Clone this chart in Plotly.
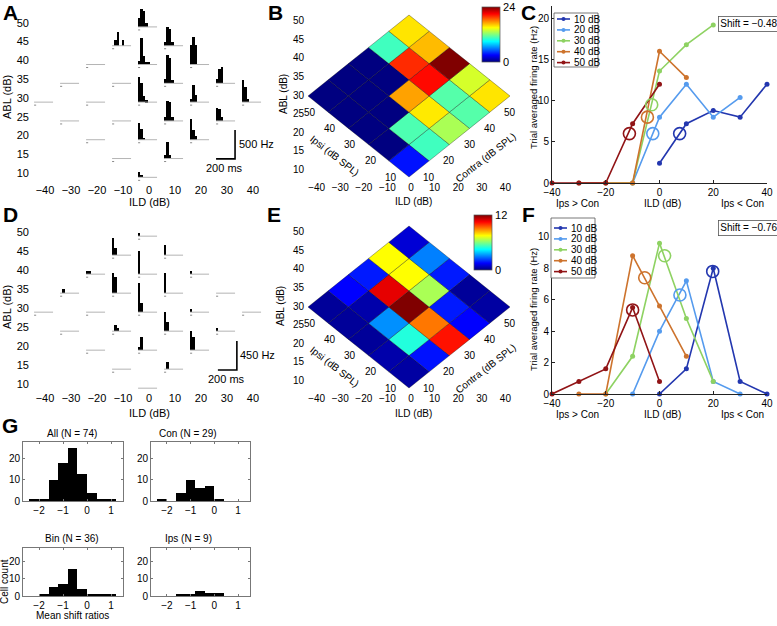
import plotly.graph_objects as go
from plotly.colors import sample_colorscale

W, H = 777, 626
FONT = "Liberation Sans, Arial, sans-serif"

# ---------------- data ----------------
levels = [10, 20, 30, 40, 50]                      # ipsi / contra level (dB SPL)
ild_ticks = [-40, -30, -20, -10, 0, 10, 20, 30, 40]
abl_ticks = [10, 15, 20, 25, 30, 35, 40, 45, 50]

# PSTHs (Hz per 25 ms bin), keyed by (ILD, ABL); tiles not listed are silent
bin_ms = 25
psth_a = {
    (0, 50): [160, 310, 270, 60],
    (-10, 45): [0, 100, 240, 0, 100],
    (10, 45): [60, 330, 280, 60],
    (0, 40): [60, 450, 140, 50, 40],
    (20, 40): [330, 470, 340],
    (10, 35): [70, 480, 430, 60],
    (30, 35): [80, 240, 290],
    (0, 30): [430, 330, 110, 30],
    (20, 30): [50, 290, 130],
    (40, 30): [390, 260, 60],
    (10, 25): [70, 345, 330, 60],
    (30, 25): [230, 200, 60],
    (0, 20): [290, 190, 20],
    (20, 20): [350, 160, 57],
    (10, 15): [57, 290, 60],
    (0, 10): [86, 46],
}
psth_d = {
    (0, 50): [52],
    (-10, 45): [260, 104],
    (10, 45): [156],
    (-20, 40): [52, 52],
    (0, 40): [364],
    (20, 40): [52],
    (-30, 35): [0, 62],
    (-10, 35): [312, 255],
    (10, 35): [312],
    (0, 30): [458, 146],
    (20, 30): [52],
    (-10, 25): [0, 99, 52],
    (10, 25): [296, 146],
    (30, 25): [52],
    (0, 20): [52, 208],
    (20, 20): [296, 208],
    (10, 15): [0, 104],
}
scale_hz_a = 500
scale_hz_d = 450

# rate maps: rows ipsi 10..50, columns contra 10..50
rate_map_b = [
    [3.4, 10.5, 13.0, 11.0, 15.6],
    [0.0, 10.8, 15.5, 11.0, 14.0],
    [0.0, 0.0, 17.2, 20.8, 24.0],
    [0.0, 0.0, 0.0, 20.0, 16.6],
    [0.0, 0.0, 0.0, 10.5, 15.6],
]
rate_map_e = [
    [0.4, 1.7, 10.3, 1.5, 0.4],
    [0.5, 4.9, 9.1, 1.8, 0.3],
    [0.3, 3.2, 12.0, 6.5, 1.8],
    [0.3, 0.5, 10.8, 7.5, 3.0],
    [0.3, 1.5, 1.8, 7.5, 1.0],
]
cmax_b = 24
cmax_e = 12

# rate-level curves (trial averaged firing rate, Hz) per ipsi level
curve_ild = {
    10: [0, 10, 20, 30, 40],
    20: [-10, 0, 10, 20, 30],
    30: [-20, -10, 0, 10, 20],
    40: [-30, -20, -10, 0, 10],
    50: [-40, -30, -20, -10, 0],
}
rate_c = {
    10: [2.4, 7.2, 8.8, 8.0, 12.0],
    20: [0.0, 8.0, 12.0, 8.0, 10.4],
    30: [0.0, 0.0, 13.6, 16.8, 19.2],
    40: [0.0, 0.0, 0.0, 16.0, 12.8],
    50: [0.0, 0.0, 0.0, 7.2, 12.0],
}
mid_c = {10: (7.5, 6.0), 20: (-2.5, 6.0), 30: (-2.9, 9.5), 40: (-4.5, 8.0), 50: (-11.2, 6.0)}
rate_f = {
    10: [0.0, 1.6, 8.0, 0.8, 0.0],
    20: [0.0, 4.0, 7.2, 0.8, 0.0],
    30: [0.0, 2.4, 9.6, 4.8, 0.8],
    40: [0.0, 0.0, 8.8, 5.6, 2.4],
    50: [0.0, 0.8, 1.6, 5.5, 0.8],
}
mid_f = {10: (19.8, 7.8), 20: (7.6, 6.3), 30: (1.9, 8.8), 40: (-5.5, 7.4), 50: (-10.0, 5.35)}
shift_c = "Shift = \u22120.48"
shift_f = "Shift = \u22120.76"

series_colors = {
    10: "rgb(35,55,175)",
    20: "rgb(85,155,238)",
    30: "rgb(142,210,98)",
    40: "rgb(205,115,45)",
    50: "rgb(145,20,22)",
}

# shift ratio histograms
shift_bins = [-2.2, -1.8, -1.4, -1.0, -0.6, -0.2, 0.2, 0.6, 1.0]
count_all = [1, 1, 10, 18, 25, 13, 4, 1, 1]
count_con = [1, 0, 4, 10, 6, 7, 1, 0, 0]
count_bin = [0, 1, 5, 7, 16, 4, 1, 1, 1]
count_ips = [0, 0, 1, 1, 3, 2, 2, 0, 0]

JET = [[0, "rgb(0,0,128)"], [0.125, "rgb(0,0,255)"], [0.375, "rgb(0,255,255)"],
       [0.625, "rgb(255,255,0)"], [0.875, "rgb(255,0,0)"], [1, "rgb(128,0,0)"]]

# ---------------- geometry helpers ----------------
def dom_x(a, b):
    return [a / W, b / W]

def dom_y(top, bottom):
    return [1 - bottom / H, 1 - top / H]

ms_to_ild = 0.0365          # ILD units per ms in the tile grids
TILE_LEN = 200 * ms_to_ild
BIN_W = bin_ms * ms_to_ild
TILE_X0 = -4.2
TILE_Y0 = -1.1

fig = go.Figure()


def add_psth(psth, hz_to_abl, xa, ya):
    bx, by, bb, lx, ly, mx, my = [], [], [], [], [], [], []
    for i in levels:
        for c in levels:
            ild, abl = c - i, (c + i) / 2
            x0, y0 = ild + TILE_X0, abl + TILE_Y0
            lx += [x0, x0 + TILE_LEN, None]
            ly += [y0, y0, None]
            mx += [x0, x0 + 0.8, None]
            my += [y0 - 0.8, y0 - 0.8, None]
            for k, hz in enumerate(psth.get((ild, abl), [])):
                if hz > 0:
                    bx.append(x0 + (k + 0.5) * BIN_W)
                    by.append(hz * hz_to_abl)
                    bb.append(y0)
    fig.add_trace(go.Scatter(x=lx, y=ly, mode="lines", line=dict(color="#b4b4b4", width=1),
                             xaxis=xa, yaxis=ya, hoverinfo="skip"))
    fig.add_trace(go.Scatter(x=mx, y=my, mode="lines", line=dict(color="#8a8a8a", width=1),
                             xaxis=xa, yaxis=ya, hoverinfo="skip"))
    fig.add_trace(go.Bar(x=bx, y=by, base=bb, width=BIN_W, marker=dict(color="black", line=dict(width=0)),
                         xaxis=xa, yaxis=ya))


def add_scalebar(sx, sy, bar_len, label, xa, ya):
    fig.add_trace(go.Scatter(x=[sx - TILE_LEN, sx, sx], y=[sy, sy, sy + bar_len], mode="lines",
                             line=dict(color="black", width=1.6), xaxis=xa, yaxis=ya, hoverinfo="skip"))
    fig.add_annotation(x=sx + 0.6, y=sy + bar_len / 2, xref=xa, yref=ya, text=label, showarrow=False,
                       xanchor="left", yanchor="middle", font=dict(size=11))
    fig.add_annotation(x=sx - TILE_LEN / 2 - 0.5, y=sy - 0.3, xref=xa, yref=ya, text="200 ms",
                       showarrow=False, xanchor="center", yanchor="top", font=dict(size=11))


# panel A / D: PSTH grids
add_psth(psth_a, 29 / 3.76 / scale_hz_a, "x", "y")
add_scalebar(33.1, 13.8, 29 / 3.76, f"{scale_hz_a} Hz", "x", "y")
add_psth(psth_d, 29 / 3.8 / scale_hz_d, "x5", "y5")
add_scalebar(33.8, 13.7, 29 / 3.8, f"{scale_hz_d} Hz", "x5", "y5")


# panel B / E: rotated rate maps
def add_map(rate_map, cmax, xa, ya, vis_x, vis_y, cb_left, cb_top):
    for r, i in enumerate(levels):
        for q, c in enumerate(levels):
            ild, abl = c - i, (c + i) / 2
            col = sample_colorscale(JET, [rate_map[r][q] / cmax])[0]
            fig.add_trace(go.Scatter(
                x=[ild, ild + 10, ild, ild - 10, ild], y=[abl - 5, abl, abl + 5, abl, abl - 5],
                mode="lines", fill="toself", fillcolor=col,
                line=dict(color="rgba(0,0,0,0.45)", width=0.7),
                xaxis=xa, yaxis=ya, hoverinfo="skip"))
    fig.add_trace(go.Scatter(
        x=[0], y=[30], mode="markers", xaxis=xa, yaxis=ya, hoverinfo="skip",
        marker=dict(size=0.1, opacity=0, color=[0], cmin=0, cmax=cmax, colorscale=JET, showscale=True,
                    colorbar=dict(x=cb_left / W, xanchor="left", y=1 - cb_top / H, yanchor="top",
                                  len=55 / H, lenmode="fraction", thickness=18, thicknessmode="pixels",
                                  tickvals=[0, cmax], ticks="", outlinewidth=0.7, outlinecolor="#555",
                                  xpad=0, ypad=0, tickfont=dict(size=11, family=FONT)))))
    fig.add_trace(go.Scatter(x=[None], y=[None], xaxis=vis_x, yaxis=vis_y, hoverinfo="skip"))
    for lv in levels:
        fig.add_annotation(x=-lv + 1, y=lv / 2, xref=xa, yref=ya, text=str(lv), showarrow=False,
                           xanchor="center", yanchor="middle", font=dict(size=10))
        fig.add_annotation(x=lv, y=lv / 2, xref=xa, yref=ya, text=str(lv), showarrow=False,
                           xanchor="center", yanchor="middle", font=dict(size=10))
    fig.add_annotation(x=-37, y=11.5, xref=xa, yref=ya, text="Ipsi (dB SPL)", showarrow=False,
                       xanchor="center", yanchor="middle", textangle=38, font=dict(size=10))
    fig.add_annotation(x=38, y=11.0, xref=xa, yref=ya, text="Contra (dB SPL)", showarrow=False,
                       xanchor="center", yanchor="middle", textangle=-38, font=dict(size=10))


add_map(rate_map_b, cmax_b, "x3", "y3", "x2", "y2", 482, 7)
add_map(rate_map_e, cmax_e, "x7", "y7", "x6", "y6", 474, 215)


# panel C / F: rate vs ILD
def add_curves(rates, mids, xa, ya):
    for lv in levels:
        fig.add_trace(go.Scatter(x=curve_ild[lv], y=rates[lv], mode="lines+markers",
                                 line=dict(color=series_colors[lv], width=1.6),
                                 marker=dict(size=5, color=series_colors[lv]),
                                 xaxis=xa, yaxis=ya, cliponaxis=False))
    for lv in levels:
        fig.add_trace(go.Scatter(x=[mids[lv][0]], y=[mids[lv][1]], mode="markers",
                                 marker=dict(size=12, symbol="circle-open", color=series_colors[lv],
                                             line=dict(width=1.6)),
                                 xaxis=xa, yaxis=ya, cliponaxis=False))


add_curves(rate_c, mid_c, "x4", "y4")
add_curves(rate_f, mid_f, "x8", "y8")

# panel G: shift ratio histograms
for counts, xa, ya in [(count_all, "x9", "y9"), (count_con, "x10", "y10"),
                       (count_bin, "x11", "y11"), (count_ips, "x12", "y12")]:
    fig.add_trace(go.Bar(x=shift_bins, y=counts, width=0.4, marker=dict(color="black", line=dict(width=0)),
                         xaxis=xa, yaxis=ya))

# ---------------- axes ----------------
hidden = dict(showgrid=False, zeroline=False, showline=False, ticks="", fixedrange=True, automargin=False)
lay = {}
lay["xaxis"] = dict(hidden, domain=dom_x(30, 265), range=[-45.77, 44.62], tickvals=ild_ticks,
                    tickfont=dict(size=11))
lay["yaxis"] = dict(hidden, domain=dom_y(0, 182), range=[7.66, 56.06], tickvals=abl_ticks,
                    tickfont=dict(size=11))
lay["xaxis5"] = dict(hidden, domain=dom_x(30, 265), range=[-45.77, 44.62], tickvals=ild_ticks,
                     tickfont=dict(size=11), anchor="y5")
lay["yaxis5"] = dict(hidden, domain=dom_y(205, 390), range=[8.42, 57.1], tickvals=abl_ticks,
                     tickfont=dict(size=11), anchor="x5")
for n, top, bot, lab in [(2, 5, 185, 180), (6, 216, 396, 391)]:
    lay[f"xaxis{n}"] = dict(hidden, domain=dom_x(305, 525), range=[-44.92, 48.31], tickvals=ild_ticks,
                            tickfont=dict(size=10), anchor="free", position=1 - lab / H)
    lay[f"yaxis{n}"] = dict(hidden, domain=dom_y(top, bot), range=[5.68, 54.32], tickvals=abl_ticks,
                            tickfont=dict(size=10), anchor=f"x{n}")
    lay[f"xaxis{n + 1}"] = dict(hidden, domain=dom_x(305, 525), range=[-51.49, 57.43], showticklabels=False,
                                anchor=f"y{n + 1}")
    lay[f"yaxis{n + 1}"] = dict(hidden, domain=dom_y(top, bot), range=[2.53, 58.09], showticklabels=False,
                                anchor=f"x{n + 1}")

line_ax = dict(showgrid=False, zeroline=False, showline=True, linecolor="#222", linewidth=1,
               ticks="inside", ticklen=3, tickcolor="#222", tickfont=dict(size=10), fixedrange=True,
               automargin=False)
lay["xaxis4"] = dict(line_ax, domain=dom_x(552, 767), range=[-40, 40], tickvals=[-40, -20, 0, 20, 40],
                     anchor="y4")
lay["yaxis4"] = dict(line_ax, domain=dom_y(6, 183), range=[0, 21.5], tickvals=[0, 5, 10, 15, 20],
                     anchor="x4")
lay["xaxis8"] = dict(line_ax, domain=dom_x(552, 767), range=[-40, 40], tickvals=[-40, -20, 0, 20, 40],
                     anchor="y8")
lay["yaxis8"] = dict(line_ax, domain=dom_y(218, 394), range=[0, 11.2], tickvals=[0, 2, 4, 6, 8, 10],
                     anchor="x8")

box_ax = dict(showgrid=False, zeroline=False, showline=True, linecolor="#777", linewidth=1, mirror="ticks",
              ticks="inside", ticklen=2, tickcolor="#777", tickfont=dict(size=10), fixedrange=True,
              automargin=False)
for n, (l, r, t, b) in zip([9, 10, 11, 12], [(23, 123, 442, 501), (151, 250, 442, 501),
                                             (23, 123, 548, 596), (151, 250, 548, 596)]):
    lay[f"xaxis{n}"] = dict(box_ax, domain=dom_x(l, r), range=[-2.67, 1.5], tickvals=[-2, -1, 0, 1],
                            anchor=f"y{n}")
    lay[f"yaxis{n}"] = dict(box_ax, domain=dom_y(t, b), range=[0, 28], tickvals=[0, 10, 20],
                            anchor=f"x{n}")

fig.update_layout(**lay)


# ---------------- text ----------------
def note(text, x, y, size=11, angle=0, bold=False, xanchor="center", **kw):
    fig.add_annotation(x=x / W, y=1 - y / H, xref="paper", yref="paper", text=f"<b>{text}</b>" if bold else text,
                       showarrow=False, textangle=angle, font=dict(size=size), xanchor=xanchor,
                       yanchor="middle", **kw)


for letter, x, y in [("A", 10, 12), ("B", 275, 12), ("C", 528, 12), ("D", 10, 214), ("E", 274, 214),
                     ("F", 528, 214), ("G", 10, 425)]:
    note(letter, x, y, size=21, bold=True)

note("ABL (dB)", 7, 97, angle=-90)
note("ILD (dB)", 149, 202)
note("ABL (dB)", 7, 307, angle=-90)
note("ILD (dB)", 149, 413)
note("ABL (dB)", 283, 94, size=10, angle=-90)
note("ILD (dB)", 413, 202, size=10)
note("ABL (dB)", 280, 306, size=10, angle=-90)
note("ILD (dB)", 413, 413, size=10)

for ymid, ybot in [(88, 203), (310, 414)]:
    note("Trial averaged firing rate (Hz)", 533, ymid, size=9.5, angle=-90)
    note("Ips &gt; Con", 577, ybot, size=10)
    note("ILD (dB)", 662, ybot, size=10)
    note("Ips &lt; Con", 742, ybot, size=10)

note(shift_c, 749, 24, size=10, bordercolor="#555", borderwidth=0.8, borderpad=1.5, bgcolor="white")
note(shift_f, 749, 228, size=10, bordercolor="#555", borderwidth=0.8, borderpad=1.5, bgcolor="white")

# manual legends for C and F
for left, right, top, bottom, first in [(554, 598, 13, 67, 19), (551, 595, 218, 278, 228)]:
    fig.add_shape(type="rect", xref="paper", yref="paper", x0=left / W, x1=right / W,
                  y0=1 - bottom / H, y1=1 - top / H, line=dict(color="#555", width=0.8), fillcolor="white")
    for k, lv in enumerate(levels):
        yy = first + k * 10.9
        fig.add_shape(type="line", xref="paper", yref="paper", x0=(left + 3) / W, x1=(left + 16) / W,
                      y0=1 - yy / H, y1=1 - yy / H, line=dict(color=series_colors[lv], width=1.6))
        fig.add_shape(type="circle", xref="paper", yref="paper", x0=(left + 7.5) / W, x1=(left + 11.5) / W,
                      y0=1 - (yy + 2) / H, y1=1 - (yy - 2) / H, fillcolor=series_colors[lv],
                      line=dict(color=series_colors[lv], width=0))
        note(f"{lv} dB", left + 18, yy, size=10, xanchor="left")

for text, x, y in [("All (N = 74)", 72, 433), ("Con (N = 29)", 188, 433),
                   ("Bin (N = 36)", 72, 538), ("Ips (N = 9)", 188, 538)]:
    note(text, x, y, size=10)
note("Cell count", 4, 582, size=10, angle=-90)
note("Mean shift ratios", 72, 615, size=10)

fig.update_layout(
    template="none",
    width=W, height=H, margin=dict(l=0, r=0, t=0, b=0, autoexpand=False),
    paper_bgcolor="white", plot_bgcolor="rgba(0,0,0,0)",
    font=dict(family=FONT, color="black", size=11),
    showlegend=False, barmode="overlay", bargap=0,
)

fig.write_html("out.html", config={"displayModeBar": False},
               post_script="document.body.style.margin='0px';")
